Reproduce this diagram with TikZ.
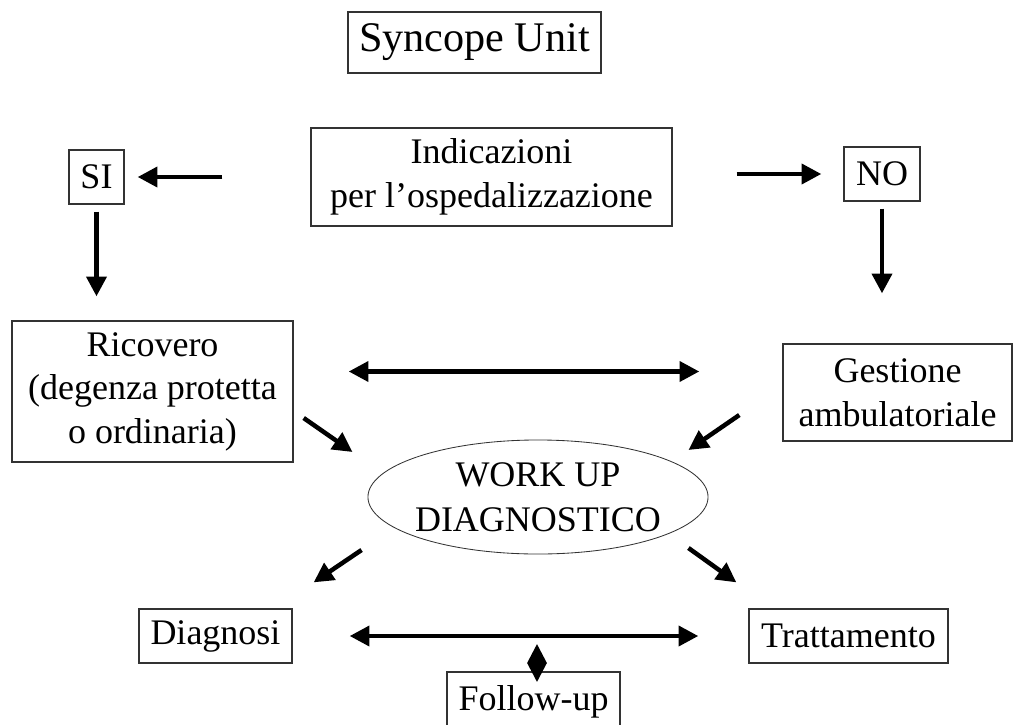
\documentclass[tikz,border=0pt]{standalone}
\usepackage{fontspec}
\setmainfont{Liberation Serif}
\usetikzlibrary{arrows.meta,shapes.geometric}

\begin{document}
\begin{tikzpicture}[x=0.025cm,y=-0.025cm,
    box/.style={draw=black!80,line width=0.9pt,inner sep=0pt,align=center,font=\fontsize{25.6}{31}\selectfont},
    arr/.style={line width=3.2pt,-{Triangle[length=14pt,width=14pt]}},
    dblarr/.style={line width=3.2pt,{Triangle[length=14pt,width=14pt]}-{Triangle[length=14pt,width=14pt]}}]
  \useasboundingbox (0,0) rectangle (1015,725);

  \node[box,minimum width=6.325cm,minimum height=1.525cm,font=\fontsize{30}{36}\selectfont] (unit) at (474.5,42.5) {Syncope Unit};
  \node[box,minimum width=9.025cm,minimum height=2.45cm] (ind) at (491.5,177) {Indicazioni\\per l'ospedalizzazione};
  \node[box,minimum width=1.375cm,minimum height=1.35cm] (si) at (96.5,177) {SI};
  \node[box,minimum width=1.9cm,minimum height=1.35cm] (no) at (882,174) {NO};
  \node[box,minimum width=7.025cm,minimum height=3.525cm] (ric) at (152.5,391.5) {Ricovero\\(degenza protetta\\o ordinaria)};
  \node[box,minimum width=5.725cm,minimum height=2.425cm] (gest) at (897.5,392.5) {Gestione\\ambulatoriale};
  \node[ellipse,draw=black!80,line width=0.6pt,minimum width=8.5cm,minimum height=2.85cm,inner xsep=-0.4cm,inner ysep=0pt,align=center,font=\fontsize{25.6}{32}\selectfont] (work) at (538,497) {WORK UP\\DIAGNOSTICO};
  \node[box,minimum width=3.825cm,minimum height=1.35cm] (diag) at (215.5,636) {Diagnosi};
  \node[box,minimum width=4.975cm,minimum height=1.35cm] (tratt) at (848.5,636) {Trattamento};
  \node[box,minimum width=4.325cm,minimum height=1.5cm] (follow) at (533.5,702) {Follow-up};
  \node[diamond,fill=black,inner sep=0pt,minimum width=0.5cm,minimum height=0.95cm] (link) at (537,663) {};

  \draw[arr,shorten <=2.2cm,shorten >=0.325cm] (ind.west |- si.east) -- (si.east);
  \draw[arr,shorten <=1.6cm,shorten >=0.55cm] (ind.east |- no.west) -- (no.west);
  \draw[arr,shorten <=0.175cm,shorten >=0.6cm] (si.south) -- (si.south |- ric.north);
  \draw[arr,shorten <=0.175cm,shorten >=1.25cm] (no.south) -- (no.south |- gest.north);

  \coordinate (mid) at ([yshift=0.5cm]ric.east);
  \draw[dblarr,shorten <=1.375cm,shorten >=2.075cm] (mid) -- (mid -| gest.west);
  \draw[arr] ([xshift=0.25cm,yshift=-0.6625cm]ric.east) -- ([xshift=-0.375cm,yshift=1.125cm]work.west);
  \draw[arr] ([xshift=-1.075cm,yshift=-0.5625cm]gest.west) -- ([xshift=-0.5cm,yshift=1.175cm]work.east);
  \draw[arr] ([xshift=-0.15cm,yshift=-1.325cm]work.west) -- ([xshift=0.525cm,yshift=0.65cm]diag.north east);
  \draw[arr] ([xshift=-0.5cm,yshift=-1.275cm]work.east) -- ([xshift=-0.3cm,yshift=0.65cm]tratt.north west);
  \draw[dblarr,shorten <=1.425cm,shorten >=1.25cm] (diag.east) -- (tratt.west);
\end{tikzpicture}
\end{document}
